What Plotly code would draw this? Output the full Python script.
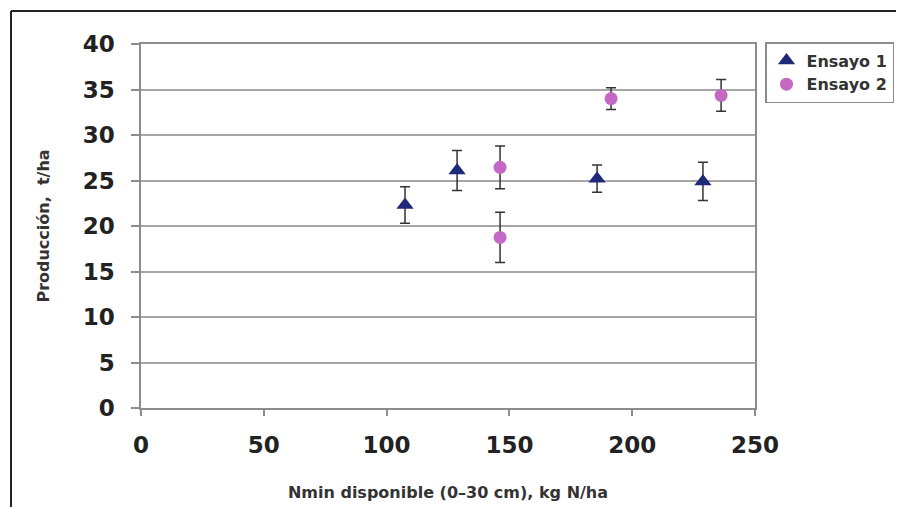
import plotly.graph_objects as go

# Data
ensayo1_x = [107.5, 128.7, 185.7, 228.8]
ensayo1_y = [22.3, 26.1, 25.2, 24.9]
ensayo1_err = [2.0, 2.2, 1.5, 2.1]

ensayo2_x = [146.2, 146.2, 191.4, 236.2]
ensayo2_y = [26.45, 18.75, 34.0, 34.35]
ensayo2_err = [2.35, 2.75, 1.2, 1.75]

x_ticks = [0, 50, 100, 150, 200, 250]
y_ticks = [0, 5, 10, 15, 20, 25, 30, 35, 40]

# the page body adds an 8px margin, so the figure is laid out in page pixels minus 8
OFF = 8
W, H = 904 - OFF, 507 - OFF
L, T = 141 - OFF, 44 - OFF
PW, PH = 614, 364
R, B = W - L - PW, H - T - PH


def px(xp):
    """page x pixel -> paper coordinate"""
    return (xp - OFF - L) / PW


def py(yp):
    """page y pixel -> paper coordinate"""
    return (T + PH - (yp - OFF)) / PH


FONT = "DejaVu Sans"

fig = go.Figure()
fig.add_trace(go.Scatter(
    x=ensayo1_x, y=ensayo1_y, mode="markers", name="Ensayo 1",
    marker=dict(symbol="triangle-up", size=15, color="#1E2A78"),
    error_y=dict(type="data", array=ensayo1_err, visible=True,
                 color="#333333", thickness=1.5, width=5),
))
fig.add_trace(go.Scatter(
    x=ensayo2_x, y=ensayo2_y, mode="markers", name="Ensayo 2",
    marker=dict(symbol="circle", size=13, color="#C468C4"),
    error_y=dict(type="data", array=ensayo2_err, visible=True,
                 color="#333333", thickness=1.5, width=5),
))

axis_common = dict(
    showline=True, linecolor="#8C8C8C", linewidth=1.5, mirror=True,
    ticks="outside", tickcolor="#8C8C8C", tickwidth=1.5,
    tickfont=dict(family=FONT, size=23, color="#222222", weight="bold"),
    zeroline=False,
)

fig.update_xaxes(
    range=[0, 250], tickvals=x_ticks, ticklen=6, showgrid=False,
    ticklabelstandoff=10,
    title=dict(text="<b>Nmin disponible (0–30 cm), kg N/ha</b>",
               font=dict(family=FONT, size=16, color="#333333"), standoff=29),
    **axis_common,
)
fig.update_yaxes(
    range=[0, 40], tickvals=y_ticks, ticklen=8, showgrid=True,
    gridcolor="#A6A6A6", gridwidth=1.5, ticklabelstandoff=12,
    title=dict(text="<b>Producción,  t/ha</b>",
               font=dict(family=FONT, size=16, color="#333333"), standoff=29),
    **axis_common,
)

shapes = [
    # outer black frame (top and left)
    dict(type="line", xref="paper", yref="paper",
         x0=px(11), x1=px(910), y0=py(11), y1=py(11),
         line=dict(color="#222222", width=2)),
    dict(type="line", xref="paper", yref="paper",
         x0=px(11), x1=px(11), y0=py(11), y1=py(510),
         line=dict(color="#222222", width=2)),
]

fig.update_layout(
    width=W, height=H,
    margin=dict(l=L, r=R, t=T, b=B, autoexpand=False),
    paper_bgcolor="white", plot_bgcolor="white",
    shapes=shapes,
    showlegend=True,
    legend=dict(
        x=px(765), y=py(42), xanchor="left", yanchor="top",
        bordercolor="#8C8C8C", borderwidth=1.5, bgcolor="white",
        font=dict(family=FONT, size=16, color="#333333", weight="bold"),
        itemwidth=30, tracegroupgap=0,
    ),
)

fig.write_html("out.html")
